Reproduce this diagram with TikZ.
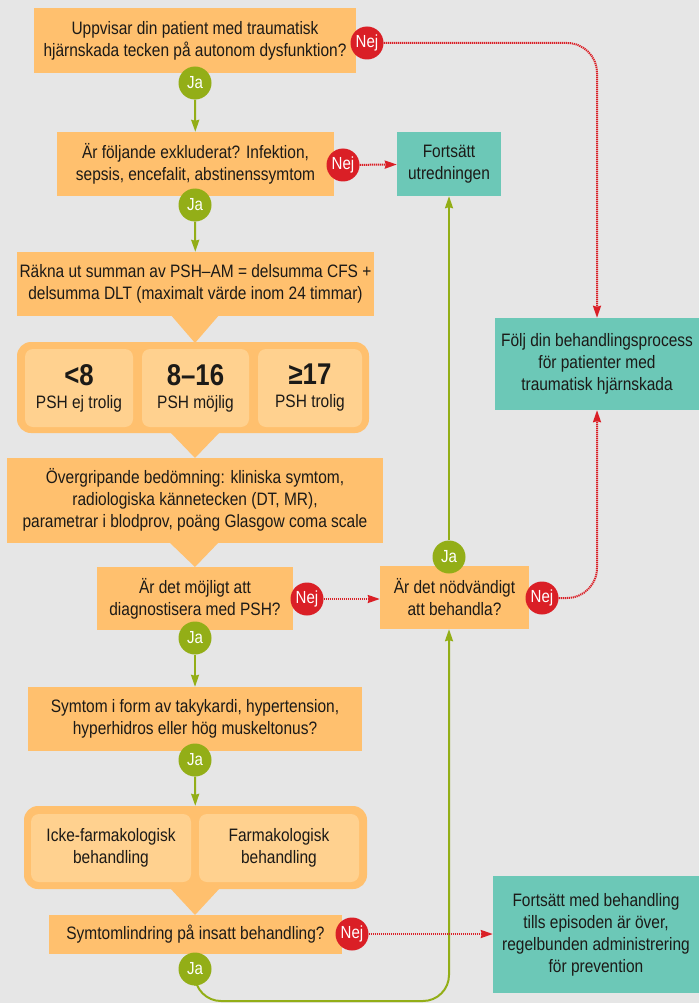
\documentclass[tikz,border=0pt]{standalone}
\usepackage{fontspec}
\setmainfont{Liberation Sans}[FakeStretch=0.86]
\usepackage{tikz}
\usetikzlibrary{arrows.meta}
\definecolor{my_bg}{HTML}{E6E6E6}
\definecolor{my_orange}{HTML}{FFC06E}
\definecolor{my_lightorange}{HTML}{FFD18F}
\definecolor{my_teal}{HTML}{6CC8B7}
\definecolor{my_green}{HTML}{93AE17}
\definecolor{my_red}{HTML}{DA1F26}
\definecolor{my_text}{HTML}{1C1A17}
\newcommand{\bignumfont}{\fontsize{30}{30}\selectfont\bfseries}

\begin{document}
\begin{tikzpicture}[
    x=1pt, y=-1pt,
    every node/.style={font=\fontsize{18}{22}\selectfont, text=my_text, align=center, inner sep=0pt},
    qbox/.style={fill=my_orange},
    endbox/.style={fill=my_teal},
    subbox/.style={fill=my_lightorange, rounded corners=8pt},
    ja/.style={circle, fill=my_green, minimum size=33pt, text=white, font=\fontsize{17.5}{18}\selectfont},
    nej/.style={circle, fill=my_red, minimum size=33pt, text=white, font=\fontsize{17.5}{18}\selectfont},
    yesline/.style={my_green, line width=2pt, -{Stealth[length=12pt, width=8pt, inset=1pt]}},
    noline/.style={my_red, line width=2pt, dash pattern=on 1.2pt off 0.8pt, -{Stealth[length=12pt, width=8pt, inset=1pt]}}
]

% Frame: one unit = one pixel of the 699 x 1003 reference, y runs downwards
\useasboundingbox (0,0) rectangle (699,1003);
\fill[my_bg] (0,0) rectangle (699,1003);

% Pointer triangles joining the stacked boxes
\fill[my_orange] (170,314) -- (220,314) -- (195,343) -- cycle;
\fill[my_orange] (170,432) -- (220,432) -- (195,458) -- cycle;
\fill[my_orange] (168,541) -- (220,541) -- (195,567) -- cycle;
\fill[my_orange] (170,888) -- (220,888) -- (195,915) -- cycle;

% Main column of questions
\node[qbox, minimum width=322pt, minimum height=65pt] (q1) at (195,40.5)
    {Uppvisar din patient med traumatisk\\hjärnskada tecken på autonom dysfunktion?};
\node[qbox, minimum width=277pt, minimum height=64pt] (q2) at (195.5,164)
    {Är följande exkluderat? Infektion,\\sepsis, encefalit, abstinenssymtom};
\node[qbox, minimum width=357pt, minimum height=64pt] (q3) at (195.5,284)
    {Räkna ut summan av PSH–AM = delsumma CFS +\\delsumma DLT (maximalt värde inom 24 timmar)};

% Score ranges
\node[qbox, rounded corners=14pt, minimum width=352pt, minimum height=91pt] (scale) at (193,387.5) {};
\node[subbox, minimum width=108pt, minimum height=78pt] (low) at (79,388)
    {{\bignumfont <8}\\[1pt]PSH ej trolig};
\node[subbox, minimum width=107pt, minimum height=78pt] (mid) at (195.5,388)
    {{\bignumfont 8–16}\\[1pt]PSH möjlig};
\node[subbox, minimum width=104pt, minimum height=78pt] (high) at (310,388)
    {{\bignumfont ≥17}\\[1pt]PSH trolig};

\node[qbox, minimum width=376pt, minimum height=85pt] (q5) at (195,500)
    {Övergripande bedömning: kliniska symtom,\\radiologiska kännetecken (DT, MR),\\parametrar i blodprov, poäng Glasgow coma scale};
\node[qbox, minimum width=196pt, minimum height=63pt] (q6) at (195,598.5)
    {Är det möjligt att\\diagnostisera med PSH?};
\node[qbox, minimum width=149pt, minimum height=63pt] (q7) at (454.5,597.5)
    {Är det nödvändigt\\att behandla?};
\node[qbox, minimum width=334pt, minimum height=64pt] (q8) at (195,719)
    {Symtom i form av takykardi, hypertension,\\hyperhidros eller hög muskeltonus?};

% Treatment options
\node[qbox, rounded corners=14pt, minimum width=343pt, minimum height=83pt] (treat) at (195.5,847.5) {};
\node[subbox, minimum width=160pt, minimum height=68pt] (nonpharm) at (111,848)
    {Icke-farmakologisk\\behandling};
\node[subbox, minimum width=160pt, minimum height=68pt] (pharm) at (279,848)
    {Farmakologisk\\behandling};

\node[qbox, minimum width=293pt, minimum height=39pt] (q10) at (195.5,934.5)
    {Symtomlindring på insatt behandling?};

% Outcome boxes
\node[endbox, minimum width=104pt, minimum height=64pt] (utred) at (449,164)
    {Fortsätt\\utredningen};
\node[endbox, minimum width=204pt, minimum height=92pt] (follow) at (597,364)
    {Följ din behandlingsprocess\\för patienter med\\traumatisk hjärnskada};
\node[endbox, minimum width=206pt, minimum height=117pt] (cont) at (596,934.5)
    {Fortsätt med behandling\\tills episoden är över,\\regelbunden administrering\\för prevention};

% Answer markers
\node[ja] (ja1) at (195,83) {Ja};
\node[ja] (ja2) at (195,205) {Ja};
\node[ja] (ja6) at (195,638) {Ja};
\node[ja] (ja7) at (449,557) {Ja};
\node[ja] (ja8) at (195,760) {Ja};
\node[ja] (ja10) at (195,969) {Ja};
\node[nej] (nej1) at (367,43) {Nej};
\node[nej] (nej2) at (343,165) {Nej};
\node[nej] (nej6) at (307,599) {Nej};
\node[nej] (nej7) at (542,598) {Nej};
\node[nej] (nej10) at (352,934) {Nej};

% Yes branches
\draw[yesline] (ja1) -- (q2);
\draw[yesline] (ja2) -- (q3);
\draw[yesline] (ja6) -- (q8);
\draw[yesline] (ja8) -- (treat);
\draw[yesline] (ja7) -- (ja7 |- utred.south);
\draw[yesline, rounded corners=26pt] (ja10.south) -- (195,1001) -- (449,1001) -- (ja7 |- q7.south);

% No branches
\draw[noline, rounded corners=30pt] (nej1) -| (follow.north);
\draw[noline] (nej2) -- (utred);
\draw[noline] (nej6) -- (q7.west |- nej6);
\draw[noline, rounded corners=30pt] (nej7) -| (follow.south);
\draw[noline] (nej10) -- (cont.west |- nej10);

\end{tikzpicture}
\end{document}
